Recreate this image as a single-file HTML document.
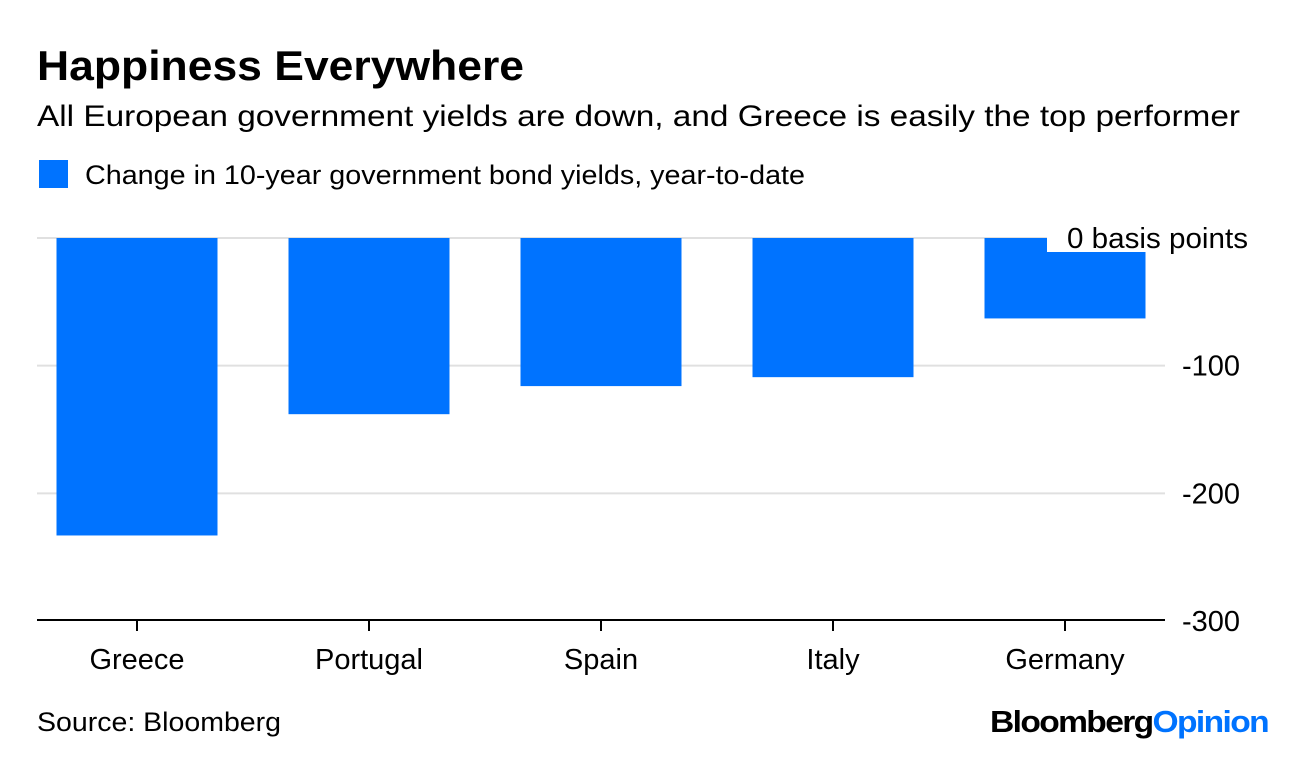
<!DOCTYPE html>
<html><head><meta charset="utf-8"><style>
body{margin:0;background:#fff;width:1296px;height:754px;overflow:hidden;font-family:"Liberation Sans",Arial,sans-serif}
svg text{font-family:"Liberation Sans",Arial,sans-serif}
</style></head><body>
<svg id="chart" width="1296" height="754">
<text x="37" y="80" font-size="42" font-weight="bold" fill="#000" textLength="487" lengthAdjust="spacingAndGlyphs">Happiness Everywhere</text>
<text x="37" y="126" font-size="30" fill="#000" textLength="1203" lengthAdjust="spacingAndGlyphs">All European government yields are down, and Greece is easily the top performer</text>
<rect x="39" y="160" width="29" height="28" fill="#0073ff"/>
<text x="85" y="184" font-size="27" fill="#000" textLength="720" lengthAdjust="spacingAndGlyphs">Change in 10-year government bond yields, year-to-date</text>
<g id="grid"></g>
<g id="bars"></g>
<g id="axis"></g>
<text x="37" y="731" font-size="27" fill="#000" textLength="244" lengthAdjust="spacingAndGlyphs">Source: Bloomberg</text>
<text x="990" y="732" font-size="31" font-weight="bold" textLength="278" lengthAdjust="spacingAndGlyphs" letter-spacing="-1.5"><tspan fill="#000">Bloomberg</tspan><tspan fill="#0073ff">Opinion</tspan></text>
</svg>
<script>
const categories = ["Greece","Portugal","Spain","Italy","Germany"];
const values = [-233, -138, -116, -109, -63];
const ticks = [0, -100, -200, -300];
const tickLabels = ["0 basis points","-100","-200","-300"];
const NS="http://www.w3.org/2000/svg";
const y = v => 238 + (-v) * 1.2767;
const xc = i => 137 + i * 232;
const barW = 161;
function mk(tag, attrs, parent){const e=document.createElementNS(NS,tag);for(const k in attrs)e.setAttribute(k,attrs[k]);parent.appendChild(e);return e;}
const grid=document.getElementById('grid'), bars=document.getElementById('bars'), axis=document.getElementById('axis');
ticks.forEach((t,i)=>{
  if(i<ticks.length-1){
    const l=mk('line',{x1:37,x2:1165,y1:y(t),y2:y(t),stroke:'#e0e0e0','stroke-width':2},grid);
    
    
  }
});
values.forEach((v,i)=>{
  const r=mk('rect',{x:xc(i)-barW/2,y:y(0),width:barW,height:y(v)-y(0),fill:'#0073ff'},bars);
  
  
  const tk=mk('line',{x1:xc(i),x2:xc(i),y1:620,y2:631,stroke:'#000','stroke-width':2},axis);
  
  
  const tx=mk('text',{x:xc(i),y:669,'font-size':29,'text-anchor':'middle',fill:'#000'},axis);
  tx.textContent=categories[i];
  
  
});
const al=mk('line',{x1:37,x2:1165,y1:620,y2:620,stroke:'#000','stroke-width':2},axis);


ticks.forEach((t,i)=>{
  if(i===0){
    const bg=mk('rect',{x:1047,y:222,width:210,height:30,fill:'#fff'},axis);
    
    
  }
  const attrs={x:i===0?1067:1240,y:y(t)+10,'font-size':29,'text-anchor':i===0?'start':'end',fill:'#000'};
  if(i===0){attrs.textLength=181;attrs.lengthAdjust='spacingAndGlyphs';}
  const tx=mk('text',attrs,axis);
  tx.textContent=tickLabels[i];
  
  
});
</script>
</body></html>
